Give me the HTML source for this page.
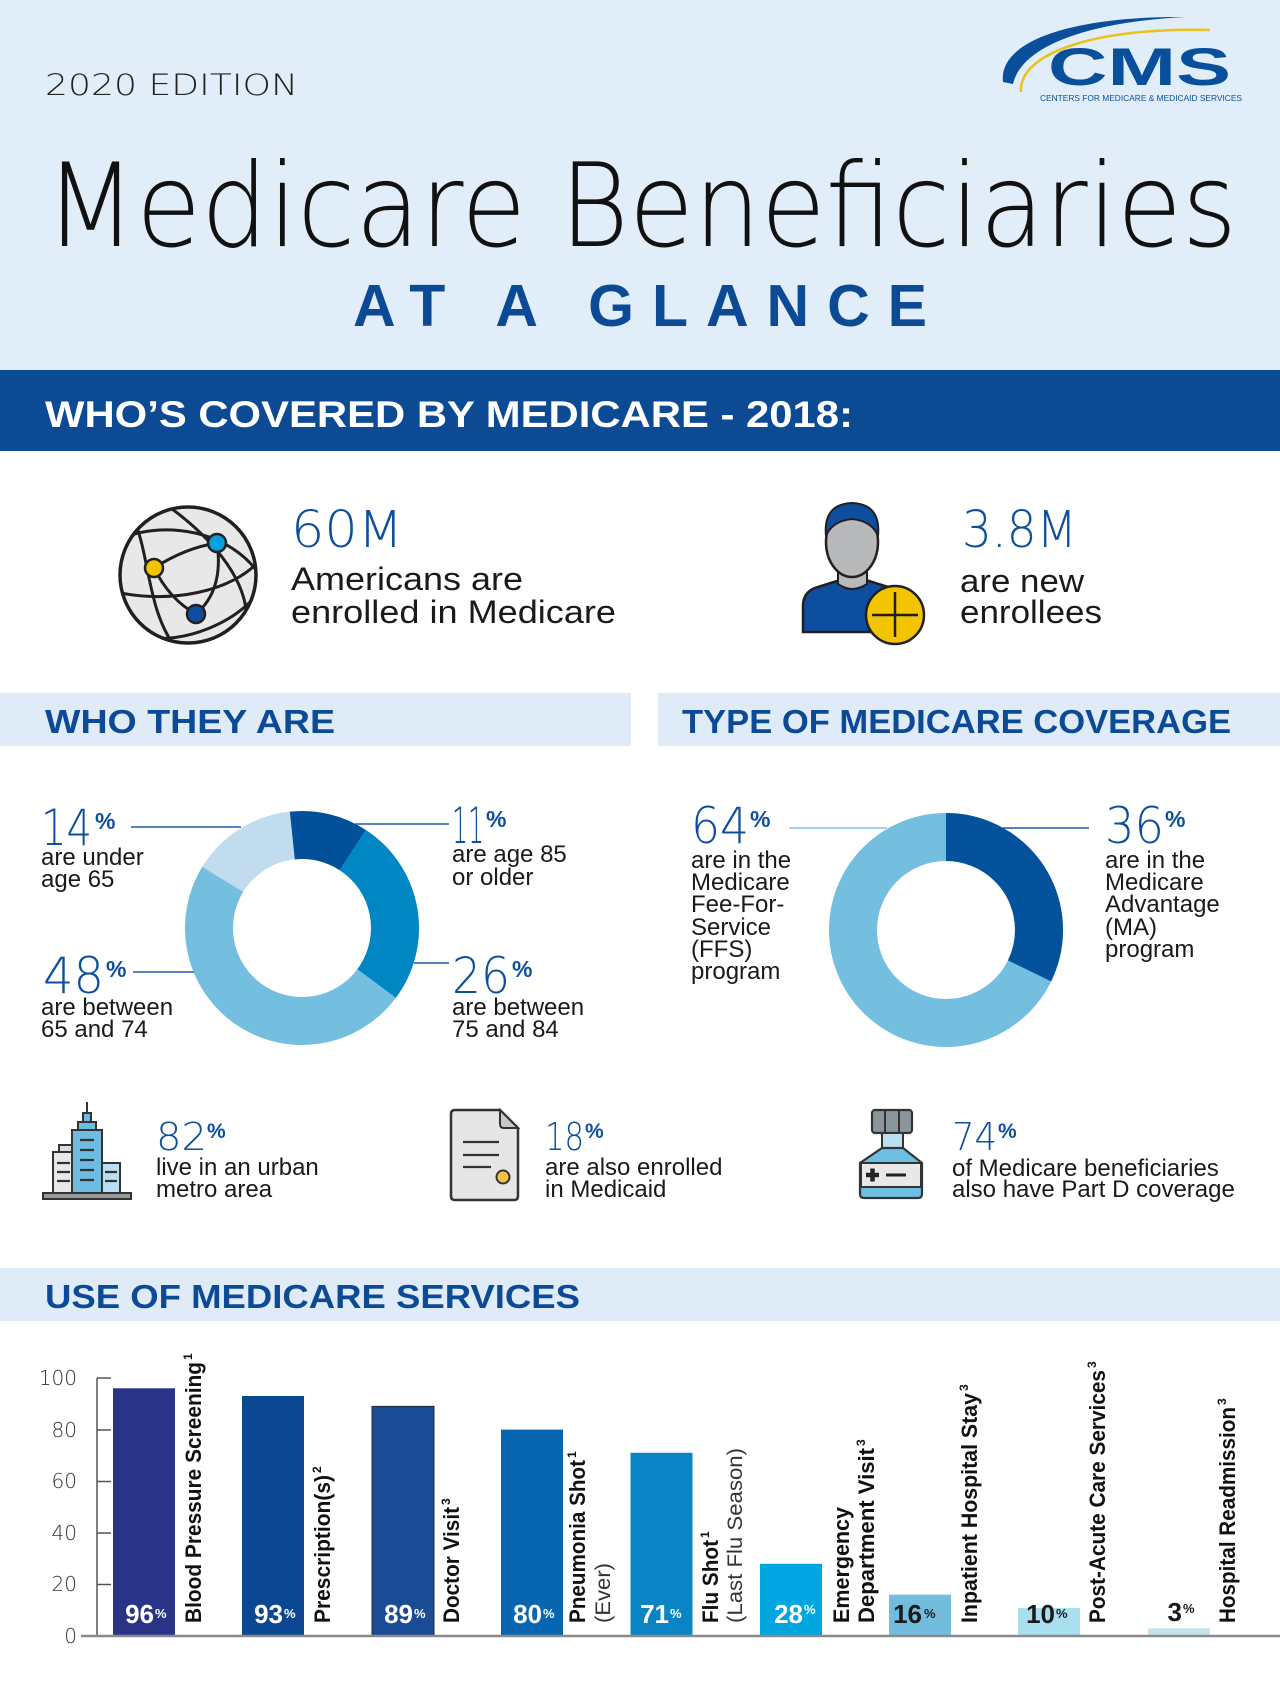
<!DOCTYPE html>
<html><head><meta charset="utf-8"><style>
html,body{margin:0;padding:0;background:#fff;}
svg{display:block;}
.r{font-family:"Liberation Sans",Arial,sans-serif;font-weight:400;}
.b{font-family:"Liberation Sans",Arial,sans-serif;font-weight:700;}
.t{font-family:"DejaVu Sans Light","DejaVu Sans","Liberation Sans",sans-serif;font-weight:200;}
</style></head><body>
<svg width="1280" height="1702" viewBox="0 0 1280 1702" xmlns="http://www.w3.org/2000/svg">
<rect width="1280" height="1702" fill="#ffffff"/>
<!-- header -->
<rect x="0" y="0" width="1280" height="370" fill="#e1eef9"/>
<text class="t" x="45" y="95" font-size="29" fill="#222" textLength="253" lengthAdjust="spacingAndGlyphs">2020 EDITION</text>
<!-- CMS logo -->
<path d="M1003,82 C998,40 1075,16 1185,17 C1090,22 1022,45 1013,84 Z" fill="#0a4f9c"/>
<path d="M1021,92 C1018,52 1100,27 1210,30" fill="none" stroke="#e8c41a" stroke-width="2.5"/>
<text class="b" x="1048" y="85" font-size="53" fill="#0a4f9c" textLength="183" lengthAdjust="spacingAndGlyphs">CMS</text>
<text class="r" x="1040" y="101" font-size="8.5" fill="#0a4f9c" textLength="202" lengthAdjust="spacingAndGlyphs">CENTERS FOR MEDICARE &amp; MEDICAID SERVICES</text>
<text class="t" x="45" y="246" font-size="116" fill="#111" textLength="1192" lengthAdjust="spacingAndGlyphs">Medicare Beneficiaries</text>
<text class="b" x="353" y="326" font-size="59" fill="#0d4a96" textLength="574" lengthAdjust="spacing">AT A GLANCE</text>
<rect x="0" y="370" width="1280" height="81" fill="#0c4a93"/>
<text class="b" x="45" y="427" font-size="37" fill="#fff" textLength="808" lengthAdjust="spacingAndGlyphs">WHO’S COVERED BY MEDICARE - 2018:</text>

<!-- globe -->
<defs><clipPath id="gc"><circle cx="188" cy="575" r="67"/></clipPath></defs>
<circle cx="188" cy="575" r="68" fill="#e8e8e8"/>
<g clip-path="url(#gc)" fill="none" stroke="#231f20" stroke-width="3">
<path d="M118,540 C160,520 230,528 262,578"/>
<path d="M116,592 C170,604 232,592 260,560"/>
<path d="M135,522 C150,560 148,612 176,648"/>
<path d="M168,506 C215,540 252,585 246,628"/>
<path d="M148,638 C190,642 232,622 254,598"/>
<path d="M154,568 Q185,548 217,543"/>
<path d="M154,568 Q170,600 196,614"/>
<path d="M217,543 Q224,590 196,614"/>
</g>
<circle cx="188" cy="575" r="68" fill="none" stroke="#231f20" stroke-width="3.5"/>
<circle cx="217" cy="543" r="9" fill="#00a3e0" stroke="#231f20" stroke-width="2.5"/>
<circle cx="154" cy="568" r="9" fill="#f2c500" stroke="#231f20" stroke-width="2.5"/>
<circle cx="196" cy="614" r="9" fill="#0d4f9e" stroke="#231f20" stroke-width="2.5"/>
<text class="t" x="291" y="547" font-size="51" fill="#0d4f9e" textLength="112" lengthAdjust="spacingAndGlyphs">60M</text>
<text class="r" x="291" y="590" font-size="32" fill="#1a1a1a" textLength="232" lengthAdjust="spacingAndGlyphs">Americans are</text>
<text class="r" x="291" y="623" font-size="32" fill="#1a1a1a" textLength="325" lengthAdjust="spacingAndGlyphs">enrolled in Medicare</text>

<!-- person -->
<path d="M803,632 L803,606 Q803,591 818,587 L840,580 L866,580 L888,587 Q903,591 903,606 L903,632 Z" fill="#0d4f9e" stroke="#231f20" stroke-width="2.5"/>
<path d="M838,564 L838,584 Q852,594 867,584 L867,564 Z" fill="#b8b9bb" stroke="#231f20" stroke-width="2"/>
<ellipse cx="852" cy="542" rx="26" ry="35" fill="#b8b9bb" stroke="#231f20" stroke-width="2.5"/>
<path d="M826,536 Q823,504 852,503 Q881,504 878,536 Q872,521 852,519 Q832,521 826,536 Z" fill="#0d4f9e" stroke="#231f20" stroke-width="2"/>
<circle cx="895" cy="615" r="29" fill="#f2c500" stroke="#231f20" stroke-width="2.5"/>
<path d="M872,615 L918,615 M895,592 L895,637" stroke="#231f20" stroke-width="2.5"/>
<text class="t" x="962" y="547" font-size="51" fill="#0d4f9e" textLength="115" lengthAdjust="spacingAndGlyphs">3.8M</text>
<text class="r" x="960" y="592" font-size="32" fill="#1a1a1a" textLength="124" lengthAdjust="spacingAndGlyphs">are new</text>
<text class="r" x="960" y="623" font-size="32" fill="#1a1a1a" textLength="142" lengthAdjust="spacingAndGlyphs">enrollees</text>

<!-- section bands -->
<rect x="0" y="693" width="631" height="53" fill="#dfecf8"/>
<rect x="658" y="693" width="622" height="53" fill="#dfecf8"/>
<text class="b" x="45" y="733" font-size="33" fill="#0d4a96" textLength="290" lengthAdjust="spacingAndGlyphs">WHO THEY ARE</text>
<text class="b" x="682" y="733" font-size="33" fill="#0d4a96" textLength="549" lengthAdjust="spacingAndGlyphs">TYPE OF MEDICARE COVERAGE</text>

<!-- donut 1 -->
<g fill="none" stroke-width="48">
<circle cx="302" cy="928" r="93" stroke="#03509a" stroke-dasharray="64.27 600" transform="rotate(-96.5 302 928)"/>
<circle cx="302" cy="928" r="93" stroke="#0086c3" stroke-dasharray="151.93 600" transform="rotate(-56.9 302 928)"/>
<circle cx="302" cy="928" r="93" stroke="#74bedf" stroke-dasharray="284.5 600" transform="rotate(36.7 302 928)"/>
<circle cx="302" cy="928" r="93" stroke="#c0dcee" stroke-dasharray="85.22 600" transform="rotate(211.5 302 928)"/>
</g>
<g stroke="#1d5aa6" stroke-width="1.6">
<line x1="131" y1="827" x2="241" y2="827"/>
<line x1="355" y1="824" x2="449" y2="824"/>
<line x1="133" y1="972" x2="194" y2="972"/>
<line x1="414" y1="963" x2="449" y2="963"/>
</g>
<g fill="#0d4f9e">
<text class="t" x="41" y="845" font-size="50" textLength="51" lengthAdjust="spacingAndGlyphs">14</text>
<text class="b" x="95" y="829" font-size="23">%</text>
<text class="t" x="452" y="843" font-size="50" textLength="32" lengthAdjust="spacingAndGlyphs">11</text>
<text class="b" x="486" y="827" font-size="23">%</text>
<text class="t" x="43" y="993" font-size="50" textLength="61" lengthAdjust="spacingAndGlyphs">48</text>
<text class="b" x="106" y="977" font-size="23">%</text>
<text class="t" x="452" y="993" font-size="50" textLength="58" lengthAdjust="spacingAndGlyphs">26</text>
<text class="b" x="512" y="977" font-size="23">%</text>
</g>
<g class="r" font-size="24" fill="#1a1a1a">
<text x="41" y="865">are under</text><text x="41" y="887">age 65</text>
<text x="452" y="862">are age 85</text><text x="452" y="885">or older</text>
<text x="41" y="1015">are between</text><text x="41" y="1037">65 and 74</text>
<text x="452" y="1015">are between</text><text x="452" y="1037">75 and 84</text>
</g>

<!-- donut 2 -->
<g fill="none" stroke-width="48">
<circle cx="946" cy="930" r="93" stroke="#74bfdf"/>
<circle cx="946" cy="930" r="93" stroke="#03529b" stroke-dasharray="188.35 600" transform="rotate(-90 946 930)"/>
</g>
<line x1="789" y1="828" x2="887" y2="828" stroke="#7cc3e3" stroke-width="1.6"/>
<line x1="1003" y1="828" x2="1089" y2="828" stroke="#1d5aa6" stroke-width="1.6"/>
<g fill="#0d4f9e">
<text class="t" x="691" y="843" font-size="50" textLength="58" lengthAdjust="spacingAndGlyphs">64</text>
<text class="b" x="750" y="827" font-size="23">%</text>
<text class="t" x="1105" y="843" font-size="50" textLength="59" lengthAdjust="spacingAndGlyphs">36</text>
<text class="b" x="1165" y="827" font-size="23">%</text>
</g>
<g class="r" font-size="24" fill="#1a1a1a">
<text x="691" y="868">are in the</text><text x="691" y="890">Medicare</text><text x="691" y="912">Fee-For-</text><text x="691" y="935">Service</text><text x="691" y="957">(FFS)</text><text x="691" y="979">program</text>
<text x="1105" y="868">are in the</text><text x="1105" y="890">Medicare</text><text x="1105" y="912">Advantage</text><text x="1105" y="935">(MA)</text><text x="1105" y="957">program</text>
</g>

<!-- building icon -->
<g stroke="#333" stroke-width="2">
<line x1="87" y1="1102" x2="87" y2="1113"/>
<rect x="59" y="1145" width="14" height="10" fill="#dcdcdc"/>
<rect x="53" y="1152" width="19" height="42" fill="#e8e8e8"/>
<rect x="102" y="1163" width="18" height="31" fill="#b8e0f0"/>
<rect x="83" y="1113" width="8" height="9" fill="#6cbde0"/>
<rect x="78" y="1122" width="18" height="9" fill="#6cbde0"/>
<rect x="72" y="1130" width="30" height="64" fill="#6cbde0"/>
<path d="M80,1140 H94 M80,1150 H94 M80,1160 H94 M80,1170 H94 M80,1180 H94 M57,1163 H70 M57,1172 H70 M57,1181 H70 M105,1172 H117 M105,1181 H117" stroke-width="2.2"/>
<rect x="43" y="1193" width="88" height="6" fill="#9a9a9a"/>
</g>
<text class="t" x="156" y="1150" font-size="38" fill="#0d4f9e" textLength="51" lengthAdjust="spacingAndGlyphs">82</text>
<text class="b" x="207" y="1138" font-size="21" fill="#0d4f9e">%</text>
<text class="r" x="156" y="1175" font-size="24" fill="#1a1a1a">live in an urban</text>
<text class="r" x="156" y="1197" font-size="24" fill="#1a1a1a">metro area</text>

<!-- document icon -->
<path d="M455,1110 L500,1110 L518,1128 L518,1196 Q518,1200 514,1200 L455,1200 Q451,1200 451,1196 L451,1114 Q451,1110 455,1110 Z" fill="#e6e6e6" stroke="#333" stroke-width="2.5"/>
<path d="M500,1110 L500,1124 Q500,1128 504,1128 L518,1128 Z" fill="#c3c9cc" stroke="#333" stroke-width="2"/>
<path d="M463,1142 H499 M463,1155 H499 M463,1167 H491" stroke="#333" stroke-width="2.2"/>
<circle cx="503" cy="1177" r="6.5" fill="#f5c242" stroke="#333" stroke-width="2"/>
<text class="t" x="545" y="1150" font-size="38" fill="#0d4f9e" textLength="39" lengthAdjust="spacingAndGlyphs">18</text>
<text class="b" x="585" y="1138" font-size="21" fill="#0d4f9e">%</text>
<text class="r" x="545" y="1175" font-size="24" fill="#1a1a1a">are also enrolled</text>
<text class="r" x="545" y="1197" font-size="24" fill="#1a1a1a">in Medicaid</text>

<!-- bottle icon -->
<rect x="872" y="1110" width="40" height="23" rx="3" fill="#8a969c" stroke="#333" stroke-width="2.2"/>
<path d="M885,1111 V1132 M899,1111 V1132" stroke="#333" stroke-width="2"/>
<rect x="882" y="1133" width="21" height="15" fill="#b8e0f0" stroke="#333" stroke-width="2"/>
<path d="M882,1148 L860,1163 L860,1194 Q860,1198 864,1198 L918,1198 Q922,1198 922,1194 L922,1163 L903,1148 Z" fill="#6ec0e2" stroke="#333" stroke-width="2.2"/>
<rect x="861" y="1163" width="60" height="24" fill="#e8e8e8" stroke="#333" stroke-width="2"/>
<path d="M866,1175 H879 M872.5,1168.5 V1181.5" stroke="#222" stroke-width="4.5"/>
<path d="M886,1175 H906" stroke="#222" stroke-width="3"/>
<text class="t" x="952" y="1150" font-size="38" fill="#0d4f9e" textLength="45" lengthAdjust="spacingAndGlyphs">74</text>
<text class="b" x="998" y="1138" font-size="21" fill="#0d4f9e">%</text>
<text class="r" x="952" y="1176" font-size="24" fill="#1a1a1a">of Medicare beneficiaries</text>
<text class="r" x="952" y="1197" font-size="24" fill="#1a1a1a">also have Part D coverage</text>

<!-- services band -->
<rect x="0" y="1268" width="1280" height="53" fill="#dfecf8"/>
<text class="b" x="45" y="1308" font-size="33" fill="#0d4a96" textLength="535" lengthAdjust="spacingAndGlyphs">USE OF MEDICARE SERVICES</text>

<!-- chart axes -->
<g class="t" font-size="20" fill="#333" text-anchor="end">
<text x="77" y="1385">100</text>
<text x="77" y="1437">80</text>
<text x="77" y="1488">60</text>
<text x="77" y="1540">40</text>
<text x="77" y="1591">20</text>
<text x="77" y="1643">0</text>
</g>
<g stroke="#555" stroke-width="1.5">
<line x1="97" y1="1378" x2="97" y2="1636"/>
<line x1="97" y1="1378" x2="111" y2="1378"/>
<line x1="97" y1="1430" x2="111" y2="1430"/>
<line x1="97" y1="1481.5" x2="111" y2="1481.5"/>
<line x1="97" y1="1533" x2="111" y2="1533"/>
<line x1="97" y1="1584.5" x2="111" y2="1584.5"/>
</g>

<!-- bars -->
<rect x="113" y="1388.3" width="62" height="247.7" fill="#2a3487"/>
<rect x="242" y="1396" width="62" height="240" fill="#0c4892"/>
<rect x="372" y="1406.4" width="62" height="229.6" fill="#1a4c96" stroke="#1a2440" stroke-width="1"/>
<rect x="501" y="1429.6" width="62" height="206.4" fill="#0766af"/>
<rect x="630.5" y="1452.8" width="62" height="183.2" fill="#0a84c4"/>
<rect x="760" y="1563.8" width="62" height="72.2" fill="#00a6e0"/>
<rect x="889" y="1594.7" width="62" height="41.3" fill="#72bddd"/>
<rect x="1018" y="1608" width="62" height="28" fill="#aadff0"/>
<rect x="1148" y="1628.3" width="62" height="7.7" fill="#c5e3e9"/>
<line x1="81" y1="1636" x2="1280" y2="1636" stroke="#8a8a8a" stroke-width="2.5"/>

<!-- value labels -->
<g class="b" font-size="26" text-anchor="end">
<text x="154" y="1623" fill="#fff">96</text>
<text x="283" y="1623" fill="#fff">93</text>
<text x="413" y="1623" fill="#fff">89</text>
<text x="542" y="1623" fill="#fff">80</text>
<text x="669" y="1623" fill="#fff">71</text>
<text x="803" y="1623" fill="#fff">28</text>
<text x="922" y="1623" fill="#1a1a1a">16</text>
<text x="1055" y="1623" fill="#1a1a1a">10</text>
<text x="1182" y="1621" fill="#1a1a1a">3</text>
</g>
<g class="b" font-size="13">
<text x="155" y="1618" fill="#fff">%</text>
<text x="284" y="1618" fill="#fff">%</text>
<text x="414" y="1618" fill="#fff">%</text>
<text x="543" y="1618" fill="#fff">%</text>
<text x="670" y="1618" fill="#fff">%</text>
<text x="804" y="1614" fill="#fff">%</text>
<text x="924" y="1618" fill="#1a1a1a">%</text>
<text x="1056" y="1618" fill="#1a1a1a">%</text>
<text x="1183" y="1613" fill="#1a1a1a">%</text>
</g>

<!-- rotated category labels -->
<g fill="#111">
<g transform="translate(201,1623) rotate(-90)"><text class="b" font-size="22" textLength="261" lengthAdjust="spacingAndGlyphs">Blood Pressure Screening</text><text class="b" x="263" y="-9" font-size="12">1</text></g>
<g transform="translate(330,1623) rotate(-90)"><text class="b" font-size="22" textLength="148" lengthAdjust="spacingAndGlyphs">Prescription(s)</text><text class="b" x="150" y="-9" font-size="12">2</text></g>
<g transform="translate(459,1623) rotate(-90)"><text class="b" font-size="22" textLength="116" lengthAdjust="spacingAndGlyphs">Doctor Visit</text><text class="b" x="118" y="-9" font-size="12">3</text></g>
<g transform="translate(585,1623) rotate(-90)"><text class="b" font-size="22" textLength="163" lengthAdjust="spacingAndGlyphs">Pneumonia Shot</text><text class="b" x="165" y="-9" font-size="12">1</text></g>
<g transform="translate(610,1623) rotate(-90)"><text class="r" font-size="21" fill="#333" textLength="60" lengthAdjust="spacingAndGlyphs">(Ever)</text></g>
<g transform="translate(718,1623) rotate(-90)"><text class="b" font-size="22" textLength="83" lengthAdjust="spacingAndGlyphs">Flu Shot</text><text class="b" x="85" y="-9" font-size="12">1</text></g>
<g transform="translate(742,1623) rotate(-90)"><text class="r" font-size="21" fill="#333" textLength="175" lengthAdjust="spacingAndGlyphs">(Last Flu Season)</text></g>
<g transform="translate(849,1623) rotate(-90)"><text class="b" font-size="22" textLength="116" lengthAdjust="spacingAndGlyphs">Emergency</text></g>
<g transform="translate(874,1623) rotate(-90)"><text class="b" font-size="22" textLength="175" lengthAdjust="spacingAndGlyphs">Department Visit</text><text class="b" x="177" y="-9" font-size="12">3</text></g>
<g transform="translate(977,1623) rotate(-90)"><text class="b" font-size="22" textLength="230" lengthAdjust="spacingAndGlyphs">Inpatient Hospital Stay</text><text class="b" x="232" y="-9" font-size="12">3</text></g>
<g transform="translate(1105,1623) rotate(-90)"><text class="b" font-size="22" textLength="253" lengthAdjust="spacingAndGlyphs">Post-Acute Care Services</text><text class="b" x="255" y="-9" font-size="12">3</text></g>
<g transform="translate(1235,1623) rotate(-90)"><text class="b" font-size="22" textLength="216" lengthAdjust="spacingAndGlyphs">Hospital Readmission</text><text class="b" x="218" y="-9" font-size="12">3</text></g>
</g>
</svg>
</body></html>
